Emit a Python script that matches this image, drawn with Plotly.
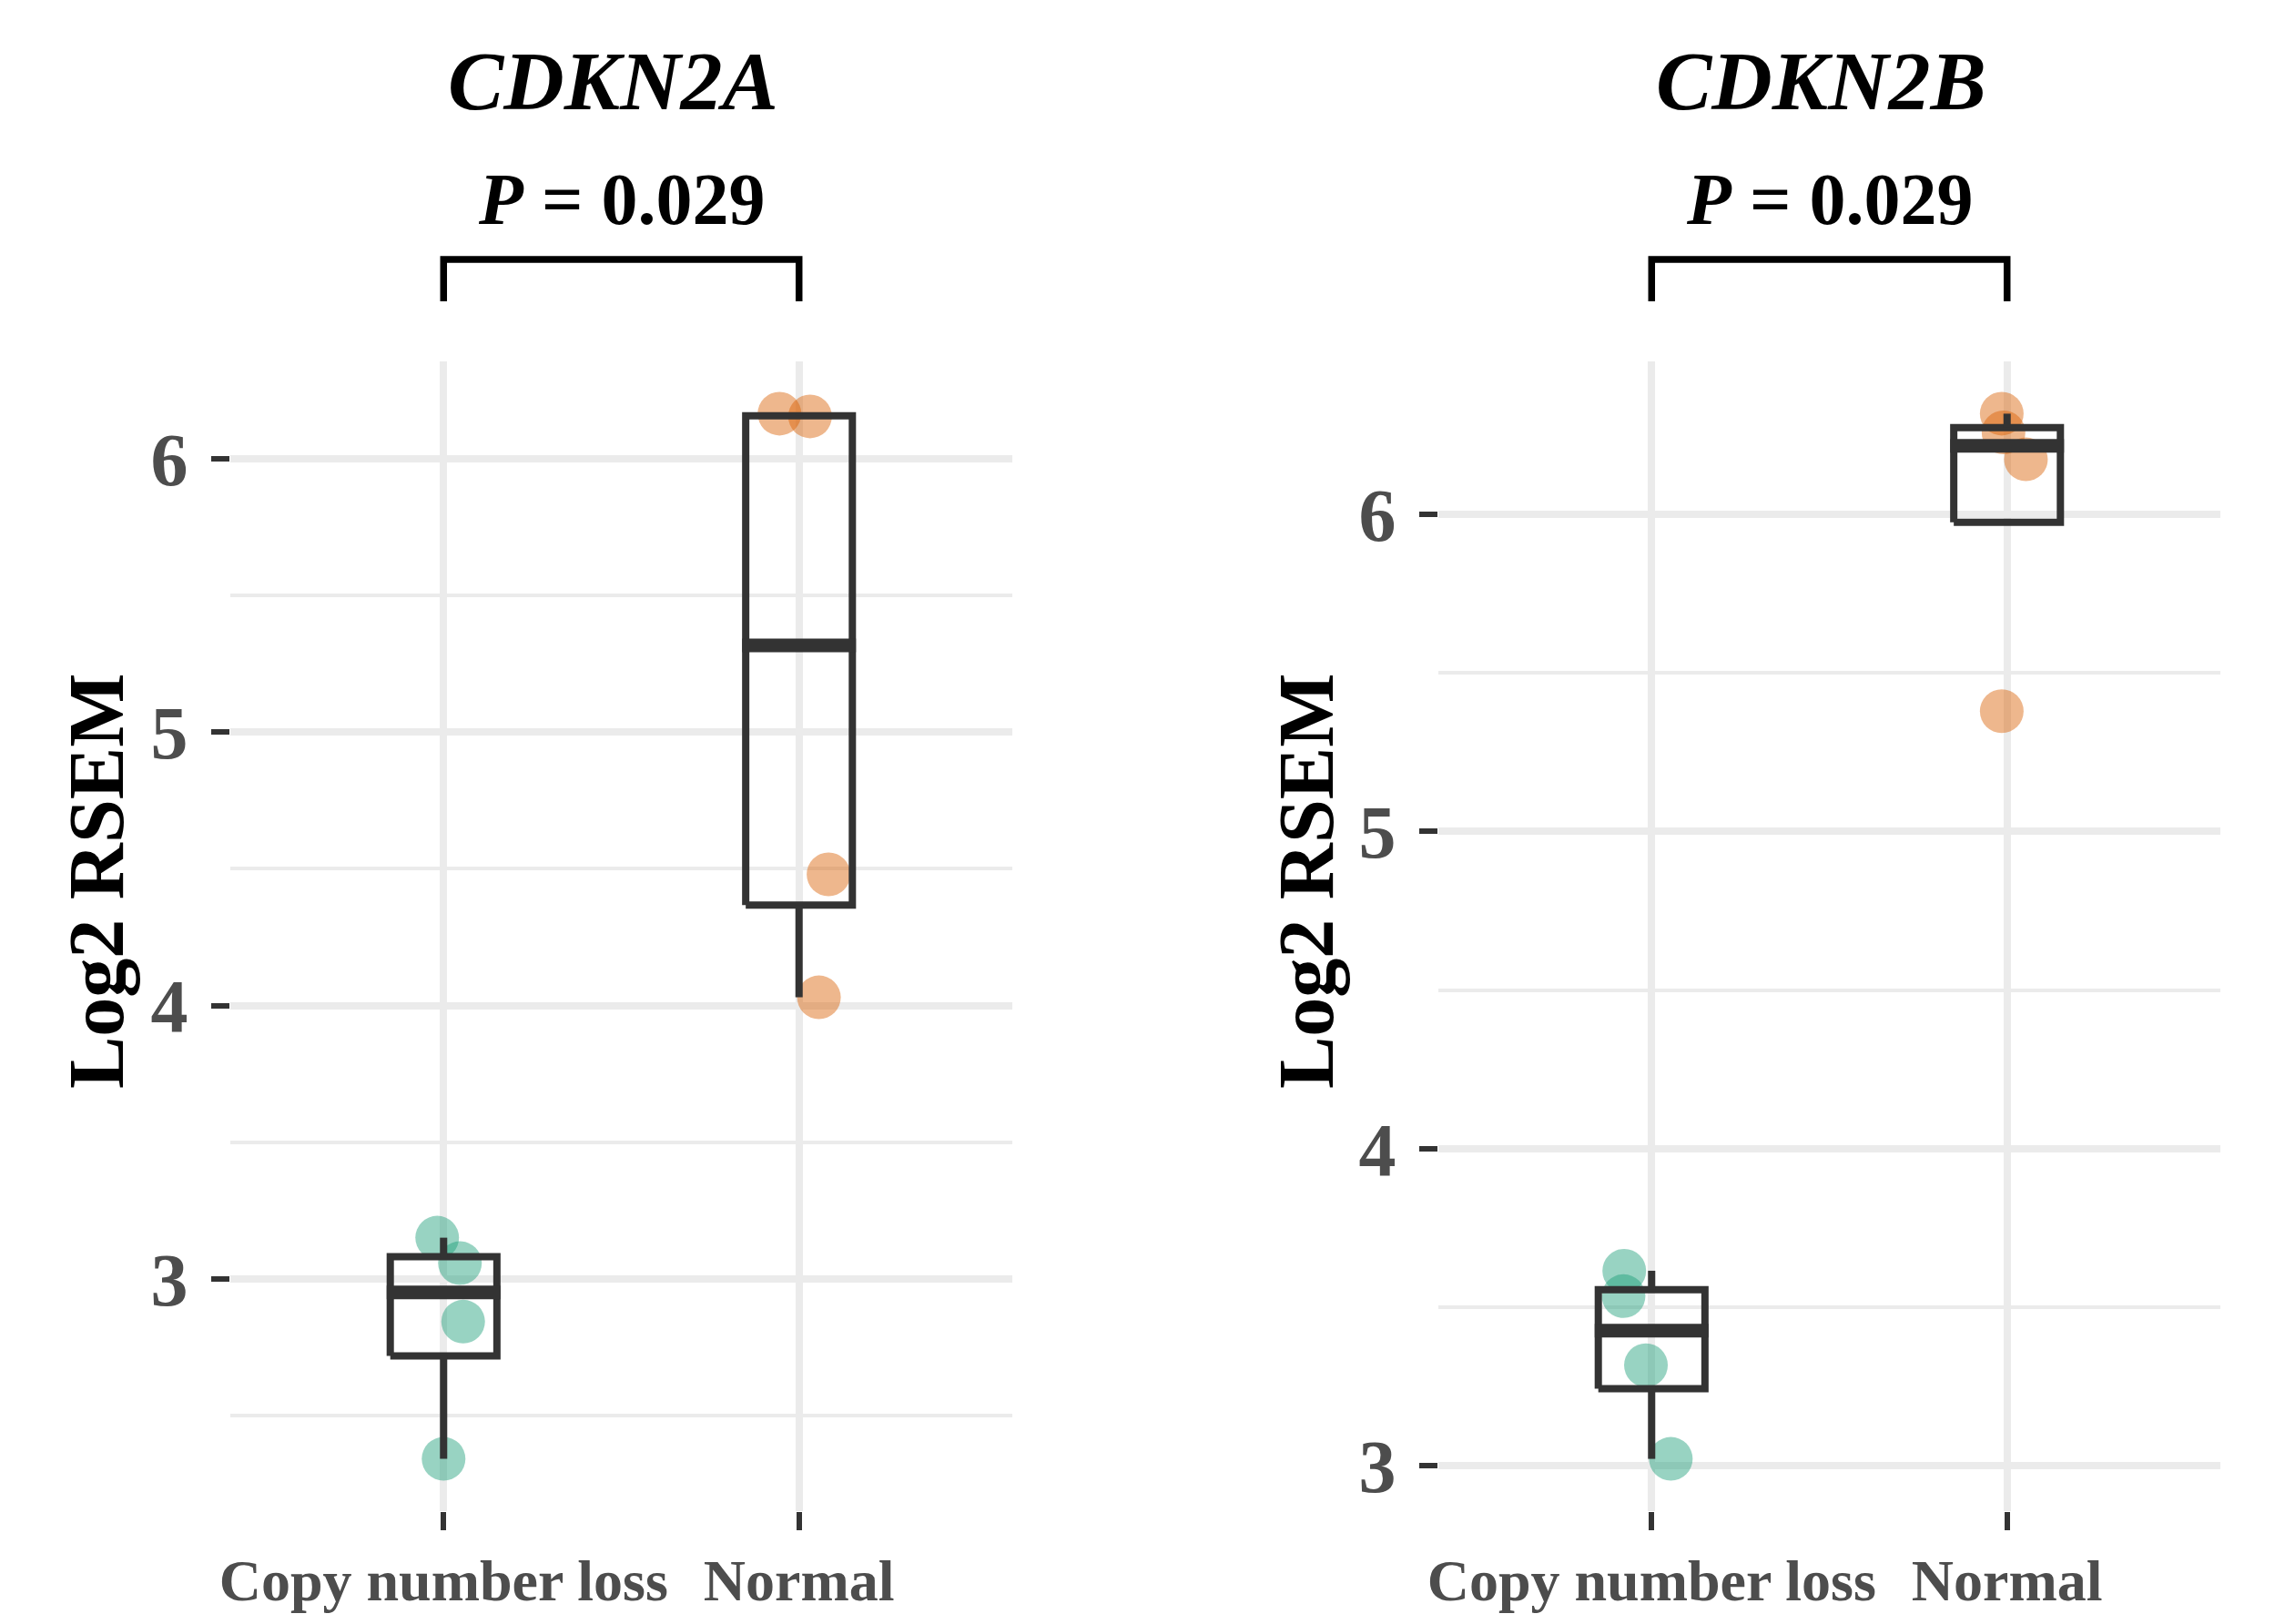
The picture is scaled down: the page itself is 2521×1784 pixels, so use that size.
import numpy as np
import plotly.graph_objects as go

# ---------------- data ----------------
categories = ["Copy number loss", "Normal"]
genes = ["CDKN2A", "CDKN2B"]
p_values = ["0.029", "0.029"]

cdkn2a_loss = [3.151, 3.058, 2.844, 2.342]
cdkn2a_normal = [6.165, 6.155, 4.480, 4.030]
cdkn2b_loss = [3.615, 3.535, 3.317, 3.022]
cdkn2b_normal = [6.317, 6.258, 6.173, 5.379]

# horizontal jitter of each point (as seen in the picture)
cdkn2a_loss_jitter = [-0.018, 0.046, 0.055, 0.000]
cdkn2a_normal_jitter = [-0.055, 0.031, 0.083, 0.056]
cdkn2b_loss_jitter = [-0.077, -0.079, -0.016, 0.054]
cdkn2b_normal_jitter = [-0.015, -0.010, 0.053, -0.015]

panels = [
    (cdkn2a_loss, cdkn2a_normal, cdkn2a_loss_jitter, cdkn2a_normal_jitter),
    (cdkn2b_loss, cdkn2b_normal, cdkn2b_loss_jitter, cdkn2b_normal_jitter),
]

# ---------------- styling ----------------
PAGE_W, PAGE_H = 2521, 1784
OFF = 8  # default page body margin
W, H = PAGE_W - 2 * OFF, PAGE_H - 2 * OFF
group_colors = ["rgba(27,158,119,0.45)", "rgba(217,95,2,0.45)"]
box_color = "#333333"
grid_color = "#EBEBEB"
tick_color = "#4D4D4D"
FONT = "Liberation Serif"
box_half = 0.15

# panel placement (page pixels)
px_x = [(253, 1112), (1580, 2439)]
px_y = (397, 1660)
ylab_x = [106, 1435]


def fx(p):
    return (p - OFF) / W


def fy(p):
    return 1 - (p - OFF) / H


def ggstats(v):
    v = np.asarray(v, dtype=float)
    q1, med, q3 = np.percentile(v, [25, 50, 75])
    iqr = q3 - q1
    inside = v[(v >= q1 - 1.5 * iqr) & (v <= q3 + 1.5 * iqr)]
    lo = min(q1, inside.min())
    hi = max(q3, inside.max())
    return q1, med, q3, lo, hi


fig = go.Figure()
layout = dict(
    width=W, height=H, autosize=False,
    margin=dict(l=0, r=0, t=0, b=0, pad=0),
    paper_bgcolor="white", plot_bgcolor="white",
    showlegend=False,
    font=dict(family=FONT, color="black"),
)
annotations = []
shapes = []

for i, (loss, normal, jl, jn) in enumerate(panels):
    xa = "x" if i == 0 else "x2"
    ya = "y" if i == 0 else "y2"
    xname = "xaxis" if i == 0 else "xaxis2"
    yname = "yaxis" if i == 0 else "yaxis2"
    groups = [loss, normal]
    jitters = [jl, jn]

    # points (drawn first, under the boxes)
    for g, (vals, jit) in enumerate(zip(groups, jitters)):
        fig.add_trace(go.Scatter(
            x=[g + j for j in jit], y=vals, mode="markers",
            marker=dict(size=48, color=group_colors[g], line=dict(width=0)),
            xaxis=xa, yaxis=ya, hoverinfo="skip",
        ))

    # boxes
    for g, vals in enumerate(groups):
        q1, med, q3, lo, hi = ggstats(vals)
        bx = [g - box_half, g + box_half, g + box_half, g - box_half, g - box_half, None,
              g, g, None, g, g]
        by = [q1, q1, q3, q3, q1, None, q3, hi, None, q1, lo]
        fig.add_trace(go.Scatter(
            x=bx, y=by, mode="lines",
            line=dict(color=box_color, width=8),
            xaxis=xa, yaxis=ya, hoverinfo="skip",
        ))
        fig.add_trace(go.Scatter(
            x=[g - box_half - 0.01, g + box_half + 0.01], y=[med, med], mode="lines",
            line=dict(color=box_color, width=15),
            xaxis=xa, yaxis=ya, hoverinfo="skip",
        ))

    allv = np.array(loss + normal, dtype=float)
    span = allv.max() - allv.min()
    yr = [allv.min() - 0.05 * span, allv.max() + 0.05 * span]

    layout[xname] = dict(
        domain=[fx(px_x[i][0]), fx(px_x[i][1])],
        anchor=ya, automargin=False,
        range=[-0.6, 1.6],
        tickmode="array", tickvals=[0, 1], ticktext=categories,
        showgrid=True, gridcolor=grid_color, gridwidth=8,
        zeroline=False, showline=False,
        ticks="outside", ticklen=20, tickwidth=6, tickcolor=box_color,
        tickfont=dict(family=FONT, size=64, color=tick_color, weight="bold"),
        ticklabelstandoff=0,
        fixedrange=True,
    )
    layout[yname] = dict(
        domain=[fy(px_y[1]), fy(px_y[0])],
        anchor=xa, automargin=False,
        range=yr,
        dtick=1, tick0=0,
        showgrid=True, gridcolor=grid_color, gridwidth=8,
        minor=dict(dtick=0.5, tick0=0, showgrid=True, gridcolor=grid_color, gridwidth=4, ticks=""),
        zeroline=False, showline=False,
        ticks="outside", ticklen=20, tickwidth=6, tickcolor=box_color,
        tickfont=dict(family=FONT, size=82, color=tick_color, weight="bold"),
        ticklabelstandoff=9,
        fixedrange=True,
    )

    # gene title
    annotations.append(dict(
        text="<i>%s</i>" % genes[i], xref="%s domain" % xa, x=0.49, yref="paper",
        y=fy(89), xanchor="center", yanchor="middle", showarrow=False,
        font=dict(family=FONT, size=92, color="black", weight="bold"),
    ))
    # p-value
    annotations.append(dict(
        text="<i>P</i> = %s" % p_values[i], xref=xa, x=0.5, yref="paper",
        y=fy(219), xanchor="center", yanchor="middle", showarrow=False,
        font=dict(family=FONT, size=80, color="black", weight="bold"),
    ))
    # y-axis title
    annotations.append(dict(
        text="Log2 RSEM", xref="paper", x=fx(ylab_x[i]), yref="paper",
        y=fy(968), xanchor="center", yanchor="middle", textangle=-90,
        showarrow=False,
        font=dict(family=FONT, size=86, color="black", weight="bold"),
    ))
    # comparison bracket
    shapes.append(dict(
        type="path", xref=xa, yref="paper",
        path="M 0,%f L 0,%f L 1,%f L 1,%f" % (fy(331), fy(285), fy(285), fy(331)),
        line=dict(color="black", width=7.5),
    ))

layout["annotations"] = annotations
layout["shapes"] = shapes
fig.update_layout(**layout)

fig.write_html("out.html")
